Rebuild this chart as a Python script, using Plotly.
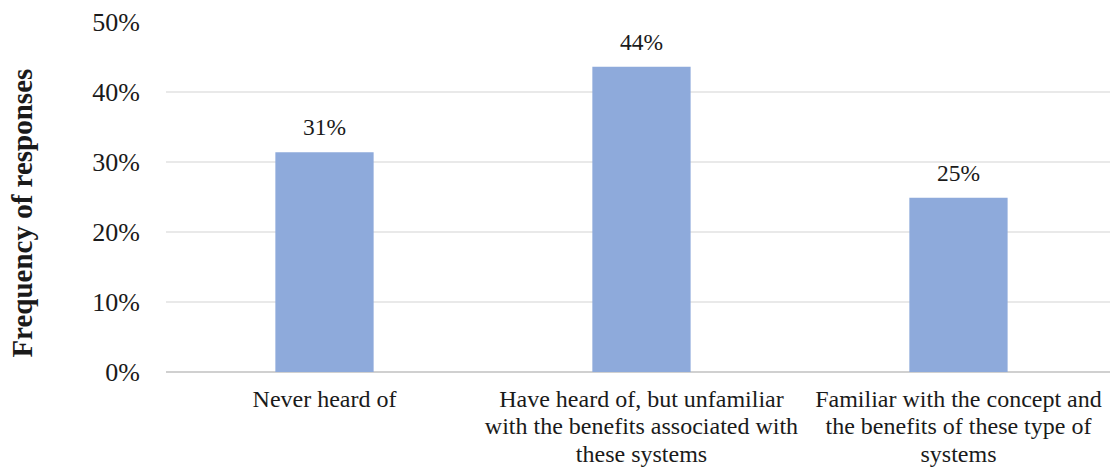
import plotly.graph_objects as go

categories = [
    "Never heard of",
    "Have heard of, but unfamiliar<br>with the benefits associated with<br>these systems",
    "Familiar with the concept and<br>the benefits of these type of<br>systems",
]
values = [0.314, 0.436, 0.249]
labels = [f"{round(v * 100)}%" for v in values]

SERIF = "Liberation Serif, Times New Roman, serif"
BAR = "#8eaadb"
TXT = "#1a1a1a"

fig = go.Figure()
fig.add_trace(go.Bar(
    x=list(range(len(categories))),
    y=values,
    marker=dict(color=BAR, line=dict(width=0)),
    width=0.31,
    hoverinfo="skip",
))

for i, (v, t) in enumerate(zip(values, labels)):
    fig.add_annotation(x=i, y=v, text=t, showarrow=False, yanchor="bottom",
                       yshift=10, font=dict(family=SERIF, size=23.5, color=TXT))

fig.add_annotation(xref="paper", yref="paper", x=-0.152, y=0.454,
                   text="<b>Frequency of responses</b>", textangle=-90,
                   showarrow=False, xanchor="center", yanchor="middle",
                   font=dict(family=SERIF, size=29, color=TXT))

fig.update_layout(
    width=1110, height=467,
    margin=dict(l=166, r=0, t=22, b=95, autoexpand=False),
    paper_bgcolor="white", plot_bgcolor="white",
    showlegend=False,
)
fig.update_xaxes(
    tickmode="array",
    tickvals=list(range(len(categories))),
    ticktext=categories,
    range=[-0.5, 2.478],
    showgrid=False,
    showline=False,
    automargin=False,
    ticks="outside", ticklen=5, tickcolor="rgba(0,0,0,0)",
    tickfont=dict(family=SERIF, size=24, color=TXT),
    fixedrange=True,
)
fig.update_yaxes(
    range=[0, 0.5],
    dtick=0.1,
    tickformat=".0%",
    showgrid=True, gridcolor="#e9e9e9", gridwidth=1.5,
    zeroline=True, zerolinecolor="#d0d0d0", zerolinewidth=1.5,
    showline=False,
    automargin=False,
    ticks="outside", ticklen=20, tickcolor="rgba(0,0,0,0)",
    tickfont=dict(family=SERIF, size=26, color=TXT),
    fixedrange=True,
)

# The reference sets its wrapped category labels with tighter leading than
# plotly's default 1.3em; each wrapped line is offset from the label origin.
post = """
var gd = document.getElementById('{plot_id}');
gd.querySelectorAll('.xtick text').forEach(function(t){
  var lines = t.querySelectorAll('tspan.line');
  for (var k = 1; k < lines.length; k++) {
    lines[k].setAttribute('dy', (k * 1.15).toFixed(2) + 'em');
  }
});
"""

fig.write_html("out.html", post_script=post)
